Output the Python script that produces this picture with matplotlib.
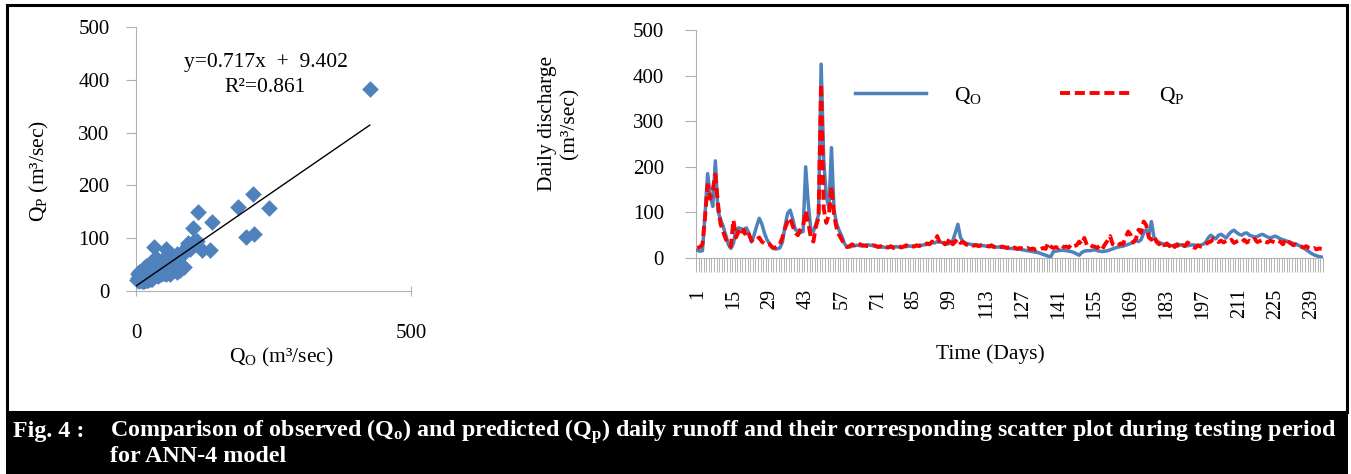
import numpy as np
import matplotlib.pyplot as plt
from matplotlib.patches import Rectangle

plt.rcParams['font.family'] = ['Liberation Serif', 'DejaVu Serif']
plt.rcParams['mathtext.fontset'] = 'custom'
plt.rcParams['mathtext.rm'] = 'Liberation Serif'
plt.rcParams['mathtext.bf'] = 'Liberation Serif:bold'
plt.rcParams['mathtext.it'] = 'Liberation Serif:italic'
plt.rcParams['mathtext.default'] = 'regular'

# observed (Qo) and predicted (Qp) daily discharge, m3/sec, testing period
q_obs = [17, 15, 16, 95, 185, 138, 113, 213, 103, 85, 70, 51, 30, 21,
         32, 62, 66, 64, 62, 66, 55, 35, 50, 70, 87, 75, 55, 40,
         32, 22, 20, 20, 22, 35, 70, 98, 105, 85, 62, 60, 56, 58,
         200, 120, 62, 58, 75, 95, 425, 215, 135, 110, 242, 105, 75, 60,
         48, 32, 24, 24, 26, 27, 28, 27, 26, 28, 29, 28, 27, 26,
         25, 24, 24, 23, 23, 24, 24, 25, 24, 24, 25, 25, 26, 26,
         26, 27, 27, 28, 29, 30, 32, 34, 33, 36, 35, 34, 30, 31,
         32, 38, 55, 74, 45, 36, 33, 31, 30, 29, 29, 28, 27, 27,
         26, 26, 25, 25, 24, 24, 23, 23, 22, 21, 21, 20, 20, 19,
         18, 17, 16, 15, 14, 13, 12, 10, 8, 6, 4, 3, 14, 15,
         16, 17, 17, 16, 15, 14, 12, 9, 6, 12, 15, 16, 16, 17,
         18, 16, 15, 14, 15, 16, 18, 20, 22, 24, 25, 26, 28, 30,
         32, 35, 38, 36, 40, 55, 62, 50, 80, 45, 38, 34, 32, 30,
         28, 28, 27, 28, 30, 29, 28, 27, 27, 28, 29, 28, 27, 28,
         30, 34, 44, 50, 46, 42, 50, 52, 48, 44, 52, 58, 61, 56,
         52, 50, 54, 55, 50, 48, 46, 47, 50, 52, 49, 46, 44, 46,
         48, 45, 42, 40, 38, 36, 34, 32, 30, 28, 25, 22, 18, 14,
         10, 7, 5, 3, 2]
q_pred = [22, 24, 30, 90, 160, 130, 150, 183, 120, 75, 58, 42, 30, 25,
          83, 45, 58, 50, 62, 46, 52, 38, 42, 40, 45, 36, 32, 28,
          30, 24, 22, 25, 30, 45, 65, 80, 88, 70, 55, 50, 62, 70,
          103, 78, 45, 36, 70, 88, 382, 108, 77, 95, 157, 95, 65, 50,
          40, 30, 24, 26, 30, 28, 33, 30, 28, 27, 26, 25, 28, 27,
          24, 26, 22, 25, 23, 26, 22, 24, 27, 23, 25, 28, 24, 26,
          25, 28, 26, 30, 28, 32, 30, 36, 35, 48, 33, 38, 30, 34,
          44, 30, 36, 42, 33, 35, 30, 28, 30, 27, 28, 26, 28, 27,
          27, 25, 28, 24, 26, 23, 25, 24, 22, 25, 21, 23, 20, 22,
          21, 20, 22, 19, 21, 18, 20, 19, 22, 20, 33, 25, 22, 24,
          22, 28, 24, 25, 23, 30, 26, 28, 36, 30, 44, 28, 30, 26,
          25, 22, 27, 20, 30, 38, 48, 30, 28, 26, 32, 30, 45, 58,
          50, 34, 42, 62, 55, 80, 72, 45, 40, 48, 35, 30, 36, 28,
          32, 26, 34, 24, 30, 22, 28, 26, 34, 30, 25, 22, 28, 25,
          26, 30, 34, 36, 42, 40, 35, 38, 34, 38, 36, 40, 33, 36,
          38, 35, 40, 34, 38, 36, 42, 35, 37, 40, 36, 34, 38, 36,
          34, 38, 35, 30, 42, 36, 32, 28, 30, 27, 25, 23, 26, 22,
          20, 22, 19, 21, 20]
days = np.arange(1, len(q_obs) + 1)
day_labels = days[::14]

# fitted line reported for the scatter
slope, intercept, r2 = 0.717, 9.402, 0.861

BLUE = '#4f81bd'
RED = '#ff0000'
GREY = '#b0b0b0'

W, H = 1351, 474
fig = plt.figure(figsize=(W / 100, H / 100), dpi=100)


def px_axes(left, top, right, bottom):
    return fig.add_axes([left / W, 1 - bottom / H, (right - left) / W, (bottom - top) / H])


def ftext(x, y, s, **kw):
    return fig.text(x / W, 1 - y / H, s, **kw)


# ---- scatter of predicted vs observed
ax1 = px_axes(136, 27, 411, 291)
ax1.scatter(q_obs, q_pred, marker='D', s=72, color=BLUE, linewidths=0, zorder=3, clip_on=False)
xfit = np.array([0, max(q_obs)])
ax1.plot(xfit, slope * xfit + intercept, color='black', lw=1.0, zorder=4)
ax1.set_xlim(0, 500)
ax1.set_ylim(0, 500)
ax1.set_xticks([0, 500])
ax1.set_yticks(range(0, 501, 100))
for s in ['top', 'right']:
    ax1.spines[s].set_visible(False)
for s in ['left', 'bottom']:
    ax1.spines[s].set_color(GREY)
ax1.tick_params(axis='y', length=7, color=GREY, pad=12, labelsize=15)
ax1.tick_params(axis='x', length=7, direction='inout', color=GREY, pad=20, labelsize=15)
ftext(266, 62, 'y=0.717x  +  9.402', ha='center', va='center', fontsize=15.5)
ftext(265, 87, 'R²=%.3f' % r2, ha='center', va='center', fontsize=15.5)
ftext(281, 357, 'Q$_\\mathregular{O}$ (m³/sec)', ha='center', va='center', fontsize=15.5)
ftext(39, 171, 'Q$_\\mathregular{P}$ (m³/sec)', ha='center', va='center', fontsize=15.5, rotation=90)

# ---- daily hydrograph
ax2 = px_axes(696, 30, 1323, 258)
ax2.plot(days, q_obs, color=BLUE, lw=2.5, label='Q$_\\mathregular{O}$', zorder=3)
ax2.plot(days, q_pred, color=RED, lw=2.8, dashes=(2.6, 1.2), label='Q$_\\mathregular{P}$', zorder=4)
ax2.set_xlim(0.5, len(days) + 0.5)
ax2.set_ylim(0, 500)
ax2.set_yticks(range(0, 501, 100))
ax2.set_xticks(day_labels)
ax2.set_xticklabels([str(d) for d in day_labels], rotation=90, va='top')
ax2.set_xticks(np.arange(0.5, len(days) + 1), minor=True)
for s in ['top', 'right']:
    ax2.spines[s].set_visible(False)
for s in ['left', 'bottom']:
    ax2.spines[s].set_color(GREY)
ax2.tick_params(axis='y', length=8, color=GREY, pad=15, labelsize=15)
ax2.tick_params(axis='x', which='major', length=0, pad=22, labelsize=14.5)
ax2.tick_params(axis='x', which='minor', length=10, width=0.6, color='#a8a8a8')
leg = ax2.legend(loc='center', bbox_to_anchor=((1020 - 696) / 627, (258 - 95) / 228),
                 ncol=2, frameon=False, fontsize=15.5, handlelength=3.3,
                 handletextpad=1.3, columnspacing=3.6)
ftext(559, 123, 'Daily discharge\n(m³/sec)', ha='center', va='center', fontsize=15.5,
      rotation=90, multialignment='center')
ftext(990, 354, 'Time (Days)', ha='center', va='center', fontsize=15.5)

# ---- frame and caption strip
fig.patches.append(Rectangle((7 / W, 1 - 412 / H), 1340 / W, 407 / H, transform=fig.transFigure,
                             fill=False, lw=2.2, edgecolor='black'))
fig.patches.append(Rectangle((6 / W, 0), 1342 / W, 1 - 411 / H, transform=fig.transFigure,
                             facecolor='black', edgecolor='none'))
cap = dict(color='white', fontweight='bold', fontsize=17.3, va='baseline', ha='left')
ftext(13, 437, 'Fig. 4 :', **cap)
ftext(110, 437, 'Comparison of observed (Q$_\\mathbf{o}$) and predicted (Q$_\\mathbf{p}$) daily runoff '
      'and their corresponding scatter plot during testing period', **cap)
ftext(110, 462, 'for ANN-4 model', **cap)

fig.savefig('out.png', dpi=100)
